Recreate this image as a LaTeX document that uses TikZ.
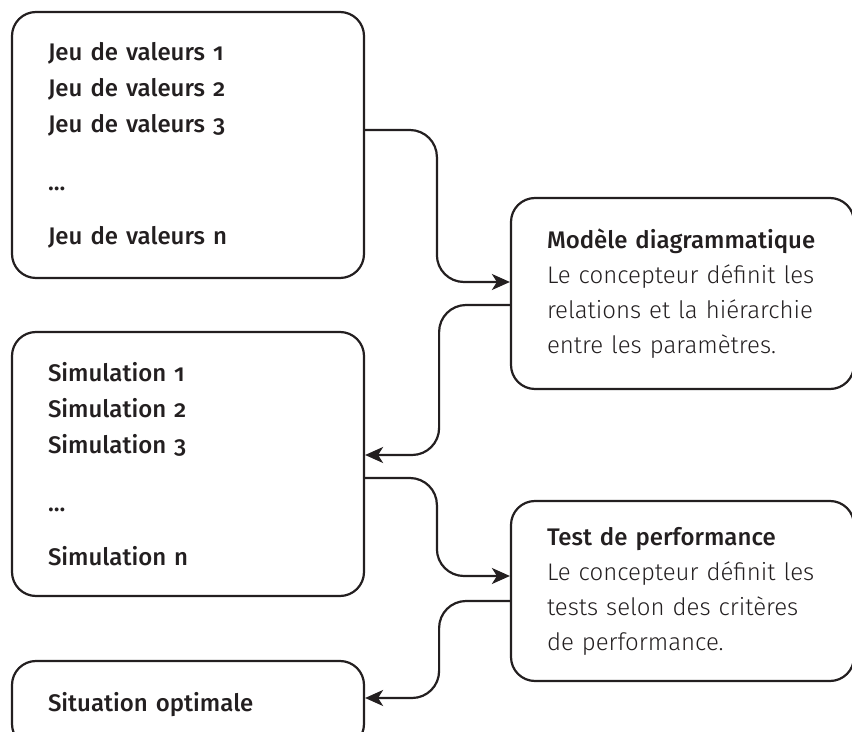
\documentclass[tikz,border=0pt]{standalone}
\usepackage{fontspec}
\setmainfont{Fira Sans Light}[Numbers=OldStyle]
\newfontfamily\medfont{Fira Sans Medium}[Numbers=OldStyle]
\usepackage{tikz}
\usetikzlibrary{arrows.meta,positioning}
\definecolor{ink}{HTML}{231F20}

\begin{document}
\begin{tikzpicture}[
        x=0.5pt, y=-0.5pt,
        basic/.style   = {draw=ink, line width=1.1pt, rounded corners=12pt, rectangle, inner sep=0pt, text=ink, font=\fontsize{12}{17.5}\selectfont},
        listbox/.style = {basic, minimum width=176pt, text width=140pt, align=left, font=\fontsize{12}{18}\medfont},
        infobox/.style = {basic, minimum width=171.5pt, text width=135.5pt, align=left},
        link/.style    = {draw=ink, line width=1.1pt, rounded corners=13.5pt, -{Stealth[length=9pt,width=8pt,inset=2.5pt]}}]
        
        % frame of the page, the right boxes run past it
        \useasboundingbox (0,0) rectangle (852,732);
        \clip (0,0) rectangle (852,732);
        
        % left column, the lists
        \node[listbox, minimum height=133pt] (jeu) at (188,145)
            {Jeu de valeurs 1\\ Jeu de valeurs 2\\ Jeu de valeurs 3\\[11pt] ...\\[9pt] Jeu de valeurs n};
        \node[listbox, minimum height=132pt] (sim) at (188,464)
            {Simulation 1\\ Simulation 2\\ Simulation 3\\[11pt] ...\\[9pt] Simulation n};
        \node[listbox, minimum height=43.5pt] (opt) at (188,704.5) {Situation optimale};
        
        % right column, the designer steps
        \node[infobox, minimum height=95.5pt] (mod) at (682.5,293.5)
            {{\medfont Modèle diagrammatique}\\ \mbox{Le concepteur définit les}\\ \mbox{relations et la hiérarchie}\\ \mbox{entre les paramètres.}};
        \node[infobox, minimum height=90pt] (test) at (682.5,591)
            {{\medfont Test de performance}\\ \mbox{Le concepteur définit les}\\ \mbox{tests selon des critères}\\ \mbox{de performance.}};
        
        % links between the two columns
        \draw[link] ([yshift=7.5pt]jeu.east) -| ([xshift=-36.5pt,yshift=5.75pt]mod.west) -- ([yshift=5.75pt]mod.west);
        \draw[link] ([yshift=-5.75pt]mod.west) -| ([xshift=37pt,yshift=4.5pt]sim.east) -- ([yshift=4.5pt]sim.east);
        \draw[link] ([yshift=-7pt]sim.east) -| ([xshift=-36.5pt,yshift=7.5pt]test.west) -- ([yshift=7.5pt]test.west);
        \draw[link] ([yshift=-5pt]test.west) -| ([xshift=37pt,yshift=3.25pt]opt.east) -- ([yshift=3.25pt]opt.east);
        
    \end{tikzpicture}
\end{document}
